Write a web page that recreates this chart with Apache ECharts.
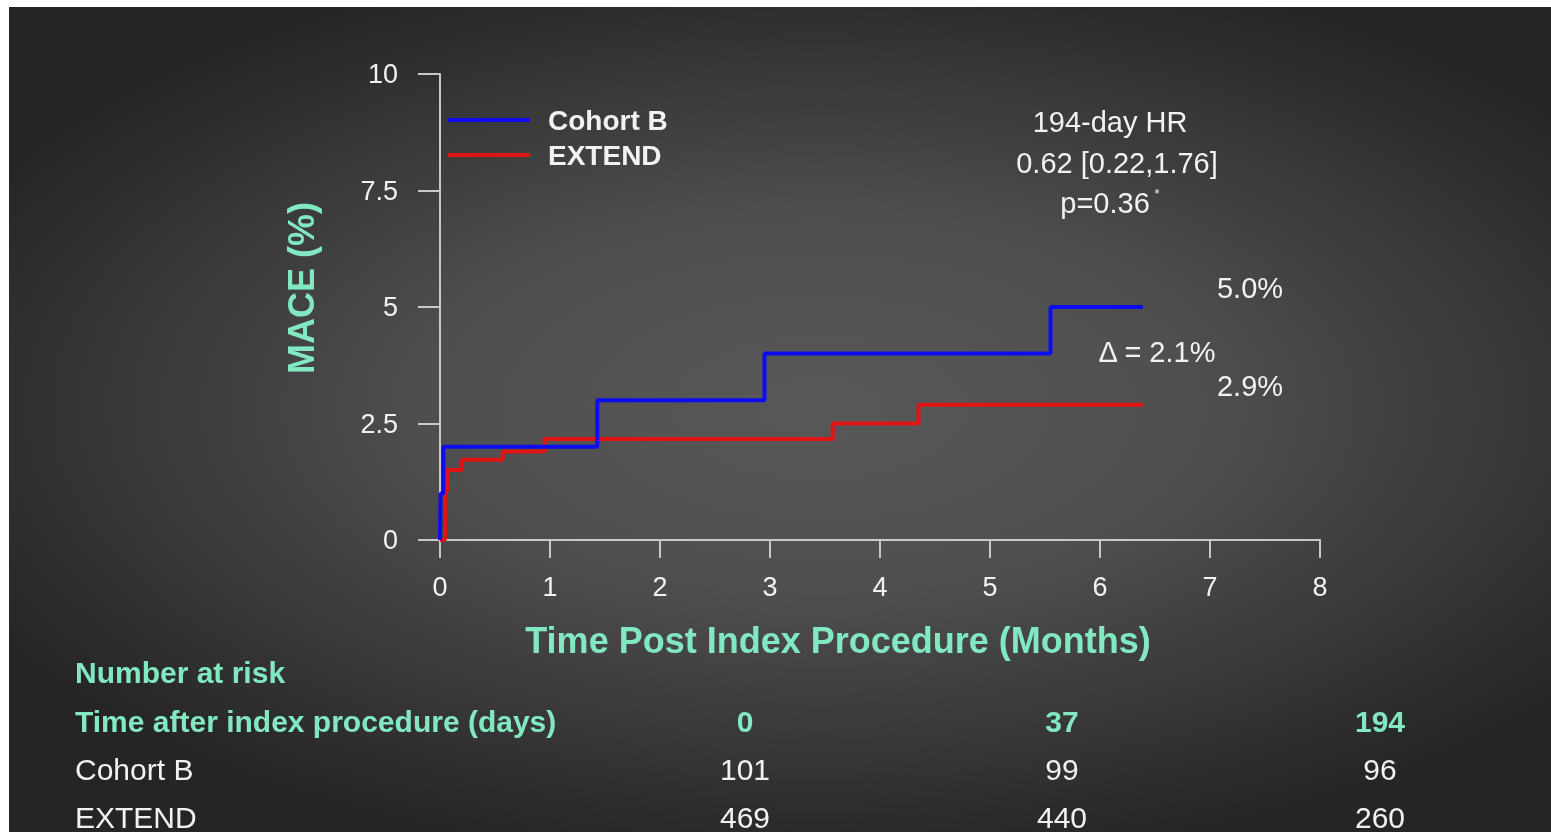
<!DOCTYPE html>
<html>
<head>
<meta charset="utf-8">
<script src="https://cdn.jsdelivr.net/npm/echarts@6/dist/echarts.min.js"></script>
<style>
  html, body { margin: 0; padding: 0; background: #ffffff; overflow: hidden; }
  #bg {
    position: fixed; left: 9px; top: 7px; width: 1700px; height: 900px;
    background: radial-gradient(ellipse 950px 460px at 810px 400px, #585858 0%, #4f4f4f 40%, #3a3a3a 70%, #252525 100%);
  }
  #chart { position: absolute; left: 0; top: 0; width: 1551px; height: 832px; }
</style>
</head>
<body>
<div id="bg"></div>
<div id="chart"></div>
<script>
// KM step curves, months vs MACE (%)
var cohortBMonths = [0, 0.005, 0.03, 1.43, 2.95, 5.55, 6.39];
var cohortBMace = [0, 1.0, 2.0, 3.0, 4.0, 5.0, 5.0];
var extendMonths = [0, 0.045, 0.065, 0.2, 0.57, 0.95, 3.57, 4.35, 6.39];
var extendMace = [0, 1.05, 1.5, 1.72, 1.9, 2.17, 2.5, 2.9, 2.9];

// number at risk table
var riskDays = ["0", "37", "194"];
var riskCohortB = ["101", "99", "96"];
var riskExtend = ["469", "440", "260"];

var aqua = "#82e8c2";
var white = "#f2f2f2";
var axisGray = "#c8c8c8";
var font = "Liberation Sans";

function pairs(xs, ys) {
  var out = [];
  for (var i = 0; i < xs.length; i++) out.push([xs[i], ys[i]]);
  return out;
}

function txt(x, y, text, size, color, bold, align) {
  return {
    type: "text",
    x: x,
    y: y,
    style: {
      text: text,
      fill: color,
      fontSize: size,
      fontFamily: font,
      fontWeight: bold ? "bold" : "normal",
      textAlign: align || "center",
      textVerticalAlign: "middle",
    },
  };
}

var graphics = [
  // axis titles
  Object.assign(txt(301, 288, "MACE (%)", 36, aqua, true), { rotation: Math.PI / 2 }),
  txt(838, 640, "Time Post Index Procedure (Months)", 36, aqua, true),
  // HR annotation
  txt(1110, 122, "194-day HR", 29, white, false),
  txt(1117, 163, "0.62 [0.22,1.76]", 29, white, false),
  txt(1105, 203, "p=0.36", 29, white, false),
  txt(1157, 193, "*", 13, white, false),
  // end values
  txt(1250, 288, "5.0%", 29, white, false),
  txt(1157, 352, "\u0394 = 2.1%", 29, white, false),
  txt(1250, 386, "2.9%", 29, white, false),
  // risk table labels
  txt(75, 672, "Number at risk", 30, aqua, true, "left"),
  txt(75, 721, "Time after index procedure (days)", 30, aqua, true, "left"),
  txt(75, 769, "Cohort B", 30, white, false, "left"),
  txt(75, 817, "EXTEND", 30, white, false, "left"),
];

var colX = [745, 1062, 1380];
for (var i = 0; i < colX.length; i++) {
  graphics.push(txt(colX[i], 721, riskDays[i], 30, aqua, true));
  graphics.push(txt(colX[i], 769, riskCohortB[i], 30, white, false));
  graphics.push(txt(colX[i], 817, riskExtend[i], 30, white, false));
}

var chart = echarts.init(document.getElementById("chart"), null, { renderer: "svg" });
chart.setOption({
  backgroundColor: "transparent",
  animation: false,
  grid: {
    left: 440,
    top: 74,
    width: 880,
    height: 466,
    containLabel: false,
    outerBoundsMode: "none",
  },
  legend: {
    orient: "vertical",
    left: 448,
    top: 106,
    padding: 0,
    itemGap: 7,
    itemWidth: 82,
    itemHeight: 4,
    icon: "rect",
    data: ["Cohort B", "EXTEND"],
    textStyle: {
      color: white,
      fontFamily: font,
      fontWeight: "bold",
      fontSize: 28,
      lineHeight: 28,
      padding: [0, 0, 0, 13],
    },
  },
  xAxis: {
    type: "value",
    min: 0,
    max: 8,
    interval: 1,
    axisLine: { show: true, lineStyle: { color: axisGray, width: 2 } },
    axisTick: { show: true, length: 18, lineStyle: { color: axisGray, width: 2 } },
    axisLabel: { color: white, fontSize: 27, fontFamily: font, margin: 33 },
    splitLine: { show: false },
  },
  yAxis: {
    type: "value",
    min: 0,
    max: 10,
    interval: 2.5,
    axisLine: { show: true, onZero: false, lineStyle: { color: axisGray, width: 2 } },
    axisTick: { show: true, length: 22, lineStyle: { color: axisGray, width: 2 } },
    axisLabel: { color: white, fontSize: 27, fontFamily: font, margin: 42 },
    splitLine: { show: false },
  },
  series: [
    {
      name: "EXTEND",
      type: "line",
      step: "end",
      showSymbol: false,
      symbol: "none",
      color: "#e01414",
      lineStyle: { color: "#e01414", width: 4 },
      data: pairs(extendMonths, extendMace),
    },
    {
      name: "Cohort B",
      type: "line",
      step: "end",
      showSymbol: false,
      symbol: "none",
      color: "#0c0cf0",
      lineStyle: { color: "#0c0cf0", width: 4 },
      data: pairs(cohortBMonths, cohortBMace),
    },
  ],
  graphic: graphics,
});
</script>
</body>
</html>
